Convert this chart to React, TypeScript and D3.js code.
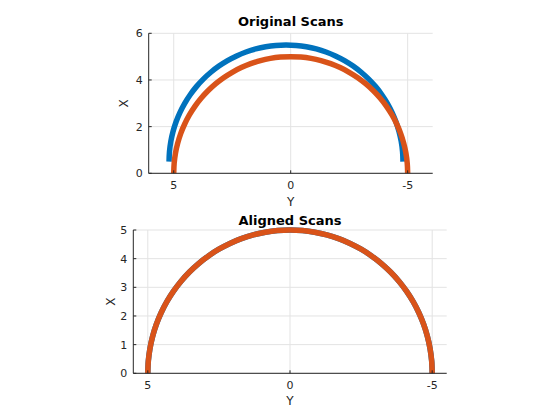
import React from "react";
import * as d3 from "d3";

// Scan beam angles (degrees) and measured ranges for the reference scan
const scanAngles = [-90, -85, -80, -75, -70, -65, -60, -55, -50, -45, -40, -35, -30, -25, -20, -15, -10, -5, 0, 5, 10, 15, 20, 25, 30, 35, 40, 45, 50, 55, 60, 65, 70, 75, 80, 85, 90];
const refRanges = [5, 5, 5, 5, 5, 5, 5, 5, 5, 5, 5, 5, 5, 5, 5, 5, 5, 5, 5, 5, 5, 5, 5, 5, 5, 5, 5, 5, 5, 5, 5, 5, 5, 5, 5, 5, 5];
// [X shift, Y shift] of the current scan before / after alignment
const originalShift = [0.5, 0.2];
const alignedShift = [0.0, 0.0];

const panelTitles = ["Original Scans", "Aligned Scans"];
const topXTicks = [5, 0, -5];
const topYTicks = [0, 2, 4, 6];
const bottomXTicks = [5, 0, -5];
const bottomYTicks = [0, 1, 2, 3, 4, 5];

const BLUE = "#0072BD";
const ORANGE = "#D95319";
const AXIS = "#262626";
const GRID = "#e3e3e3";
const FONT = "DejaVu Sans, sans-serif";

type Pt = { X: number; Y: number };

function scanPoints(shift: number[]): Pt[] {
  return scanAngles.map((a, i) => {
    const t = (a * Math.PI) / 180;
    return { X: refRanges[i] * Math.cos(t) + shift[0], Y: refRanges[i] * Math.sin(t) + shift[1] };
  });
}

type PanelProps = {
  title: string;
  xDomain: [number, number];
  xRange: [number, number];
  yDomain: [number, number];
  yRange: [number, number];
  xTicks: number[];
  yTicks: number[];
  curr: Pt[];
  ref: Pt[];
  titleY: number;
  xLabelY: number;
  yLabelX: number;
};

function Panel(p: PanelProps) {
  const x = d3.scaleLinear().domain(p.xDomain).range(p.xRange);
  const y = d3.scaleLinear().domain(p.yDomain).range(p.yRange);
  const line = d3
    .line<Pt>()
    .x((d) => x(d.Y))
    .y((d) => y(d.X))
    .curve(d3.curveCatmullRom);
  const [x0, x1] = p.xRange;
  const [yb, yt] = p.yRange;
  const tickLen = 3;
  return (
    <g>
      {p.xTicks.map((t) => (
        <line key={"gx" + t} x1={x(t)} x2={x(t)} y1={yb} y2={yt} stroke={GRID} strokeWidth={1} />
      ))}
      {p.yTicks.map((t) => (
        <line key={"gy" + t} x1={x0} x2={x1} y1={y(t)} y2={y(t)} stroke={GRID} strokeWidth={1} />
      ))}
      <path d={line(p.curr) || ""} fill="none" stroke={BLUE} strokeWidth={5.5} strokeLinecap="butt" />
      <path d={line(p.ref) || ""} fill="none" stroke={ORANGE} strokeWidth={5.5} strokeLinecap="butt" />
      <line x1={x0} x2={x1} y1={yb} y2={yb} stroke={AXIS} strokeWidth={1} />
      <line x1={x0} x2={x0} y1={yb} y2={yt} stroke={AXIS} strokeWidth={1} />
      {p.xTicks.map((t) => (
        <g key={"tx" + t}>
          <line x1={x(t)} x2={x(t)} y1={yb} y2={yb - tickLen} stroke={AXIS} />
          <text x={x(t)} y={yb + 16} textAnchor="middle" fontSize={11} fill={AXIS} fontFamily={FONT}>
            {t < 0 ? "-" + Math.abs(t) : String(t)}
          </text>
        </g>
      ))}
      {p.yTicks.map((t) => (
        <g key={"ty" + t}>
          <line x1={x0} x2={x0 + tickLen} y1={y(t)} y2={y(t)} stroke={AXIS} />
          <text x={x0 - 6} y={y(t) + 4} textAnchor="end" fontSize={11} fill={AXIS} fontFamily={FONT}>
            {String(t)}
          </text>
        </g>
      ))}
      <text x={(x0 + x1) / 2} y={p.titleY} textAnchor="middle" fontSize={13} fontWeight="bold" fill="#000" fontFamily={FONT}>
        {p.title}
      </text>
      <text x={(x0 + x1) / 2} y={p.xLabelY} textAnchor="middle" fontSize={12} fill={AXIS} fontFamily={FONT}>
        Y
      </text>
      <text
        transform={`translate(${p.yLabelX},${(yb + yt) / 2}) rotate(-90)`}
        textAnchor="middle"
        fontSize={12}
        fill={AXIS}
        fontFamily={FONT}
      >
        X
      </text>
    </g>
  );
}

export default function App() {
  const refPts = scanPoints([0, 0]);
  const currOrig = scanPoints(originalShift);
  const currAligned = scanPoints(alignedShift);
  return (
    <svg
      width={560}
      height={420}
      style={{ position: "absolute", left: 0, top: 0, background: "#fff" }}
    >
      <rect width={560} height={420} fill="#fff" />
      <Panel
        title={panelTitles[0]}
        xDomain={[6.07, -6.07]}
        xRange={[148.7, 432.7]}
        yDomain={[0, 6]}
        yRange={[173.3, 33.3]}
        xTicks={topXTicks}
        yTicks={topYTicks}
        curr={currOrig}
        ref={refPts}
        titleY={26.3}
        xLabelY={206}
        yLabelX={128.4}
      />
      <Panel
        title={panelTitles[1]}
        xDomain={[5.51, -5.51]}
        xRange={[133.3, 446.7]}
        yDomain={[0, 5]}
        yRange={[373.3, 230]}
        xTicks={bottomXTicks}
        yTicks={bottomYTicks}
        curr={currAligned}
        ref={refPts}
        titleY={225.3}
        xLabelY={405}
        yLabelX={115.4}
      />
    </svg>
  );
}
